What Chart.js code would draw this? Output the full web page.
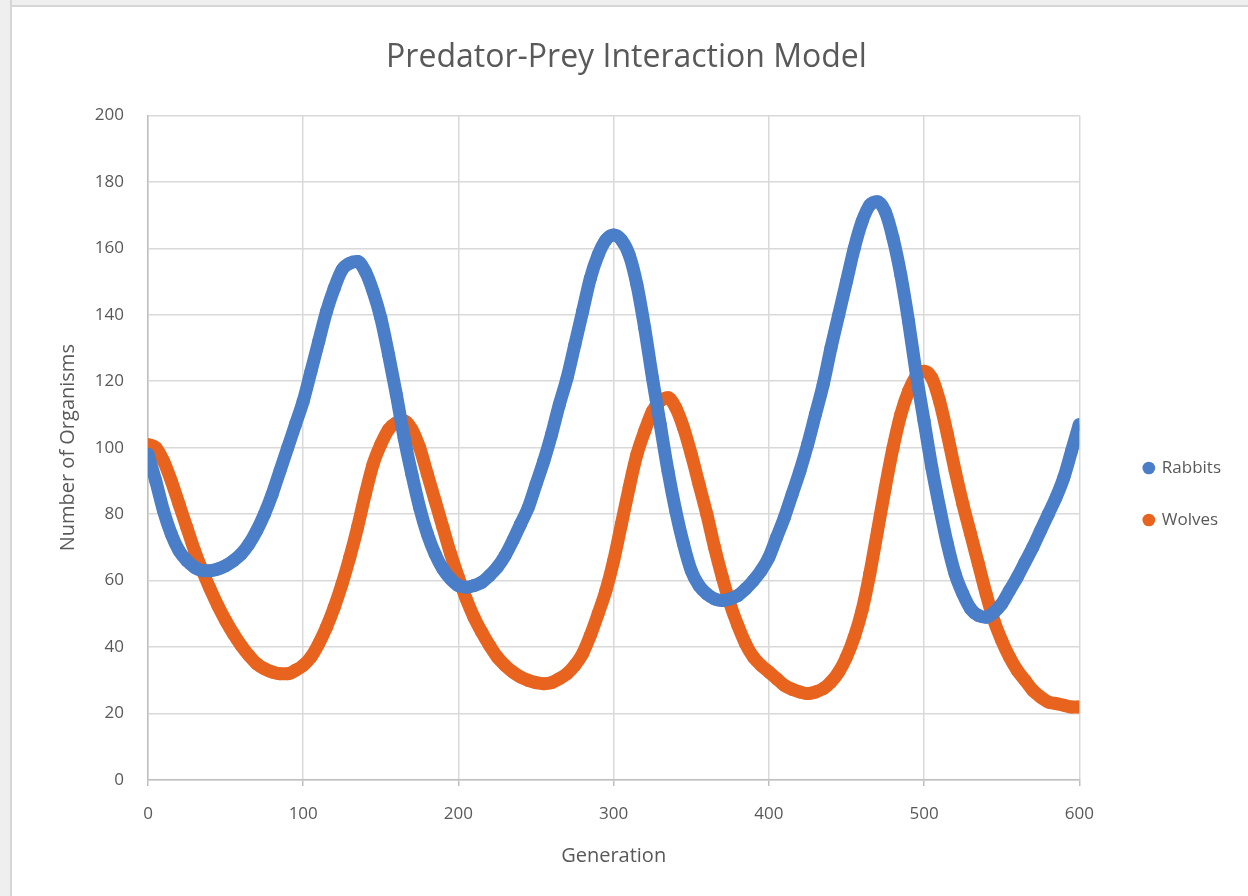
<!DOCTYPE html>
<html>
<head>
<meta charset="utf-8">
<script src="https://cdn.jsdelivr.net/npm/chart.js@4.4.1/dist/chart.umd.min.js"></script>
<style>
  body { margin: 0; background: #ffffff; }
  #wrap { position: relative; width: 1248px; height: 896px; overflow: hidden; }
  #frameLeft { position: absolute; left: 0; top: 0; width: 10px; height: 896px; background: #efefef; border-right: 2px solid #d6d6d6; }
  #frameTop { position: absolute; left: 0; top: 0; width: 1248px; height: 5px; background: #efefef; border-bottom: 2px solid #d6d6d6; }
  canvas { position: absolute; left: 0; top: 0; }
</style>
</head>
<body>
<div id="wrap">
  <canvas id="mychart" width="1248" height="896"></canvas>
  <div id="frameTop"></div>
  <div id="frameLeft"></div>
</div>
<script>
// generation sampled every 5 steps
var generations = [0,5,10,15,20,25,30,35,40,45,50,55,60,65,70,75,80,85,90,95,
  100,105,110,115,120,125,130,135,140,145,150,155,160,165,170,175,180,185,190,195,
  200,205,210,215,220,225,230,235,240,245,250,255,260,265,270,275,280,285,290,295,
  300,305,310,315,320,325,330,335,340,345,350,355,360,365,370,375,380,385,390,395,
  400,405,410,415,420,425,430,435,440,445,450,455,460,465,470,475,480,485,490,495,
  500,505,510,515,520,525,530,535,540,545,550,555,560,565,570,575,580,585,590,595,600];

var rabbits = [98,90,81,74,69,66,64,63,63,63.5,64.5,66,68,71,75,80,86,93,100,107,
  114,123,132,141,148,153.5,155.5,156,153,147,139,128,116,103,92,82,74,68,63.5,60.5,
  58.5,58,58.5,59.5,61.5,64,67.5,72,77,82,89,96,104,113,121,131,141,151,158,162.5,
  164,162.5,158,149,136,121,107,93,81,71,63,58.5,56,54.5,54,54.5,55.5,57.5,60,63,
  67,73,79,86,93,101,110,119,130,140,150,160,168,173,174,171,163,152,138,122,
  108,94,82,71,62,56,51.5,49.5,49,50.5,53,57,61,65.5,70,75,80,85,91,99,107];

var wolves = [101,100,96,90,83,76,69,63,57.5,52.5,48,44,40.5,37.5,35,33.5,32.5,32,32,33,
  34.5,37,41,46,52,59,67,76,86,95,101,105.5,107.5,108,105.5,100,92,84,76,68,
  61,54.5,49,44.5,40.5,37,34.5,32.5,31,30,29.3,29,29.3,30.5,32,34.5,38,43.5,50,57,
  66,77,88,98,105,111,114,115,112,106,98,89,80,70,61,53,46.5,41,37,34.5,
  32.5,30.5,28.5,27.3,26.5,26,26.5,27.5,29.5,32.5,37,43,51,62,75,88,100,110,117,121.5,
  123,121,114,104,93,83,74,65,56,48,42,37,33,30,27,25,23.5,23,22.5,22,22];

var seriesNames = ['Rabbits', 'Wolves'];
var seriesColors = ['#4a7ec8', '#e8641e'];
var yTicks = [0, 20, 40, 60, 80, 100, 120, 140, 160, 180, 200];

function toPoints(values) {
  return generations.map(function(g, i) { return {x: g, y: values[i]}; });
}

var txt = '#595959';
var fontFam = "'Open Sans', sans-serif";

// nudge the legend to where the reference has it (right of the plot, a bit low)
var legendNudge = {
  id: 'legendNudge',
  afterLayout: function(chart) {
    var l = chart.legend;
    l.left += 30; l.right += 30;
    l.top += 60; l.bottom += 60;
  }
};

var ctx = document.getElementById('mychart');
var myChart = new Chart(ctx, {
  type: 'scatter',
  data: {
    datasets: [rabbits, wolves].map(function(vals, i) {
      return {
        label: seriesNames[i],
        data: toPoints(vals),
        showLine: true,
        borderColor: seriesColors[i],
        backgroundColor: seriesColors[i],
        borderWidth: 13,
        cubicInterpolationMode: 'monotone',
        pointRadius: 6.5,
        pointBorderWidth: 0,
        pointHoverRadius: 6.5
      };
    })
  },
  plugins: [legendNudge],
  options: {
    responsive: false,
    animation: false,
    layout: { padding: { left: 52, right: 47, top: 0, bottom: 28 } },
    plugins: {
      tooltip: { enabled: false },
      title: {
        display: true,
        text: 'Predator-Prey Interaction Model',
        color: txt,
        font: { family: fontFam, size: 32, weight: 'normal' },
        padding: { top: 39, bottom: 38 }
      },
      legend: {
        position: 'right',
        align: 'center',
        labels: {
          usePointStyle: true,
          pointStyle: 'circle',
          boxWidth: 9,
          boxHeight: 9,
          padding: 35,
          color: txt,
          font: { family: fontFam, size: 17 }
        }
      }
    },
    scales: {
      x: {
        type: 'linear',
        min: 0,
        max: 600,
        ticks: { stepSize: 100, color: txt, padding: 18, font: { family: fontFam, size: 17 } },
        grid: { color: '#d9d9d9', lineWidth: 1.5, tickLength: 6, tickColor: '#bfbfbf' },
        border: { color: '#bfbfbf', width: 1.5 },
        title: { display: true, text: 'Generation', color: txt, padding: { top: 0, bottom: 0 }, font: { family: fontFam, size: 20 } },
        afterFit: function(scale) { scale.height = 88; }
      },
      y: {
        min: 0,
        max: 200,
        afterBuildTicks: function(scale) { scale.ticks = yTicks.map(function(v) { return {value: v}; }); },
        ticks: { color: txt, padding: 24, font: { family: fontFam, size: 17 } },
        grid: { color: '#d9d9d9', lineWidth: 1.5, tickLength: 0 },
        border: { color: '#bfbfbf', width: 1.5 },
        title: { display: true, text: 'Number of Organisms', color: txt, padding: { top: 4, bottom: 0 }, font: { family: fontFam, size: 20 } },
        afterFit: function(scale) { scale.width = 96; }
      }
    }
  }
});
</script>
</body>
</html>
